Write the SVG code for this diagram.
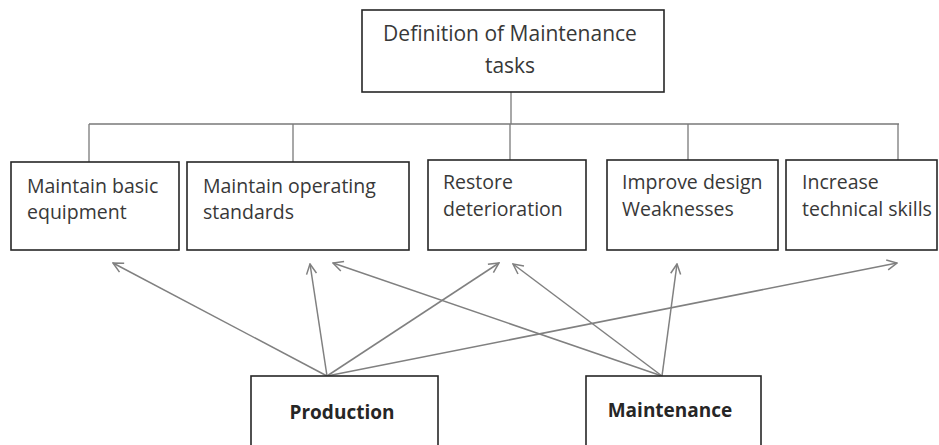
<svg xmlns="http://www.w3.org/2000/svg" width="939" height="445" viewBox="0 0 939 445">
<style>
.box{fill:#fff;stroke:#262626;stroke-width:1.6}
.t{font-family:"Open Sans","Noto Sans",sans-serif;font-size:19.5px;fill:#383838}
.h{font-family:"Open Sans","Noto Sans",sans-serif;font-size:21px;fill:#383838}
.b{font-family:"Open Sans","Noto Sans",sans-serif;font-size:19px;font-weight:bold;fill:#262626}
.tree{fill:none;stroke:#7a7a7a;stroke-width:1.3}
.arr{fill:none;stroke:#808080;stroke-width:1.5;marker-end:url(#ah)}
</style>
<defs>
<marker id="ah" viewBox="0 0 12 12" refX="11" refY="6" markerWidth="12" markerHeight="12" markerUnits="userSpaceOnUse" orient="auto">
<path d="M1,1 L11,6 L1,11" fill="none" stroke="#808080" stroke-width="1.5"/>
</marker>
</defs>
<rect width="939" height="445" fill="#fff"/>
<g id="connectors">
<path class="tree" d="M511,92 V124 M89,124 H899 M89,124 V162 M293,124 V162 M510,124 V160 M688,124 V160 M898,124 V160"/>
<line class="arr" x1="327" y1="376" x2="113" y2="263"/>
<line class="arr" x1="327" y1="376" x2="310" y2="264"/>
<line class="arr" x1="327" y1="376" x2="499" y2="263"/>
<line class="arr" x1="327" y1="376" x2="897" y2="263"/>
<line class="arr" x1="662" y1="376" x2="333" y2="263"/>
<line class="arr" x1="662" y1="376" x2="513" y2="264"/>
<line class="arr" x1="662" y1="376" x2="677" y2="264"/>
</g>
<g id="top">
<rect class="box" x="362" y="10" width="302" height="82"/>
<text class="h" x="510" y="41" text-anchor="middle">Definition of Maintenance</text>
<text class="h" x="510" y="73" text-anchor="middle">tasks</text>
</g>
<g id="n1">
<rect class="box" x="11" y="162" width="168" height="88"/>
<text class="t" x="27" y="193">Maintain basic</text>
<text class="t" x="27" y="219">equipment</text>
</g>
<g id="n2">
<rect class="box" x="187" y="162" width="222" height="88"/>
<text class="t" x="203" y="193">Maintain operating</text>
<text class="t" x="203" y="219">standards</text>
</g>
<g id="n3">
<rect class="box" x="428" y="160" width="158" height="90"/>
<text class="t" x="443" y="189">Restore</text>
<text class="t" x="443" y="216">deterioration</text>
</g>
<g id="n4">
<rect class="box" x="607" y="160" width="171" height="90"/>
<text class="t" x="622" y="189">Improve design</text>
<text class="t" x="622" y="216">Weaknesses</text>
</g>
<g id="n5">
<rect class="box" x="786" y="160" width="151" height="90"/>
<text class="t" x="802" y="189">Increase</text>
<text class="t" x="802" y="216">technical skills</text>
</g>
<g id="production">
<rect class="box" x="251" y="376" width="187" height="75"/>
<text class="b" x="342" y="419" text-anchor="middle">Production</text>
</g>
<g id="maintenance">
<rect class="box" x="586" y="376" width="175" height="75"/>
<text class="b" x="670" y="417" text-anchor="middle">Maintenance</text>
</g>
</svg>
